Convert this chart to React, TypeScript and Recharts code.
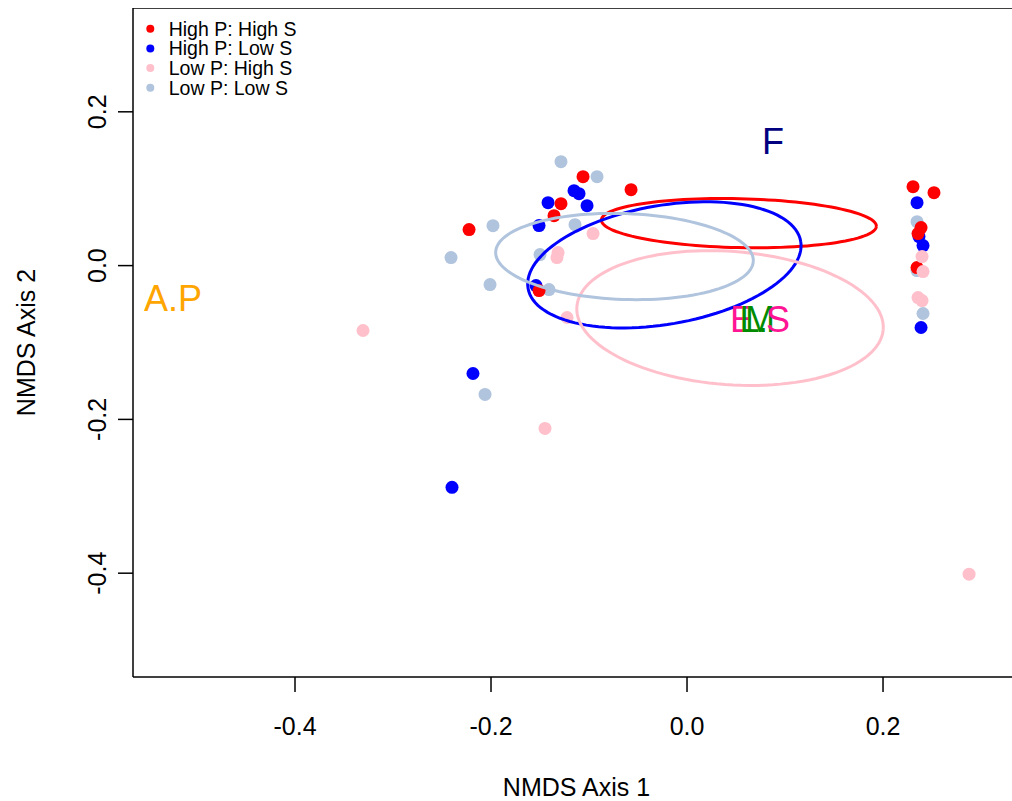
import { ScatterChart, Scatter, XAxis, YAxis, ReferenceLine, Legend } from "recharts"

const GROUPS = ["High P: High S", "High P: Low S", "Low P: High S", "Low P: Low S"]
const COLORS = ["#FF0000", "#0000FF", "#FFC0CB", "#B0C4DE"]

// site scores, NMDS1 / NMDS2
const highPHighS = [
  [-0.1061, 0.1156], [-0.0571, 0.0987], [-0.1286, 0.0805], [-0.1357, 0.0649],
  [-0.2224, 0.0468], [-0.151, -0.0325], [0.2306, 0.1026], [0.252, 0.0948],
  [0.2388, 0.0494], [0.2357, 0.0416], [0.2347, -0.0026],
]
const highPLowS = [
  [-0.1153, 0.0974], [-0.1102, 0.0935], [-0.1418, 0.0818], [-0.102, 0.0779],
  [-0.151, 0.052], [-0.1541, -0.026], [-0.2184, -0.1403], [-0.2398, -0.2883],
  [0.2347, 0.0818], [0.2367, 0.0377], [0.2408, 0.026], [0.2388, -0.0805],
]
const lowPHighS = [
  [-0.0959, 0.0416], [-0.1316, 0.0169], [-0.1327, 0.0104], [-0.1224, -0.0675],
  [-0.1449, -0.2117], [-0.3306, -0.0844], [0.2878, -0.4013], [0.2398, 0.0117],
  [0.2408, -0.0078], [0.2357, -0.0416], [0.2398, -0.0455],
]
const lowPLowS = [
  [-0.1286, 0.1351], [-0.0918, 0.1156], [-0.1143, 0.0532], [-0.198, 0.0519],
  [-0.2408, 0.0104], [-0.15, 0.0143], [-0.201, -0.0247], [-0.1408, -0.0312],
  [-0.2061, -0.1675], [0.2347, 0.0571], [0.2347, -0.0065], [0.2408, -0.0623],
]

// group ellipses: centre x, centre y, semi-axis A (x, y), semi-axis B (x, y)
const ellipseParams = [
  [0.0529, 0.0552, 0.1403, -0.00405, 0.000567, 0.0318],
  [-0.0231, 0.001, 0.1391, 0.03057, -0.01033, 0.07614],
  [0.0439, -0.0682, 0.1563, -0.01475, 0.00503, 0.08639],
  [-0.0638, 0.0118, 0.13145, -0.00584, 0.00153, 0.05581],
]

// fitted variable labels (the last one is several labels printed on top of each other)
const labelText = ["A.P", "F", "ELM.S"]
const labelX = [-0.5245, 0.0878, 0.0745]
const labelY = [-0.0422, 0.1617, -0.0701]
const labelColors = [["#FFA500"], ["#000080"], ["#FF1493", "#008B00", "#008B00", "#008B00", "#FF1493"]]

const TICKS = [-0.4, -0.2, 0, 0.2]
const XMIN = -0.5653
const XMAX = 0.3316
const YMIN = -0.535
const YMAX = 0.335

const FONT = "'Liberation Sans', Arial, sans-serif"

const toPts = (arr: number[][]) => arr.map(([x, y]) => ({ x, y }))

const ellipsePts = (p: number[]) => {
  const [cx, cy, ax, ay, bx, by] = p
  const out = []
  for (let i = 0; i <= 120; i++) {
    const t = (2 * Math.PI * i) / 120
    out.push({ x: cx + ax * Math.cos(t) + bx * Math.sin(t), y: cy + ay * Math.cos(t) + by * Math.sin(t) })
  }
  return out
}

const dot = (color: string) => (p: any) => <circle cx={p.cx} cy={p.cy} r={6.5} fill={color} />

const labels = labelText.map((text, i) => ({ x: labelX[i], y: labelY[i], text, colors: labelColors[i] }))

// letter offsets used to overprint the stacked labels
const STACK_DX = [0, -14.5, -14.5, -17, -2]

const LabelShape = (p: any) => {
  const { text, colors } = p.payload
  if (colors.length === 1) {
    return (
      <text x={p.cx} y={p.cy} dy="0.35em" textAnchor="middle" fontSize={36} fontFamily={FONT} fill={colors[0]}>
        {text}
      </text>
    )
  }
  return (
    <text x={p.cx - 30} y={p.cy} dy="0.35em" fontSize={36} fontFamily={FONT}>
      {text.split("").map((ch: string, i: number) => (
        <tspan key={i} dx={STACK_DX[i]} fill={colors[i]}>
          {ch}
        </tspan>
      ))}
    </text>
  )
}

const XTick = ({ x, y, payload }: any) => (
  <text x={x} y={y + 43} textAnchor="middle" fontSize={25} fontFamily={FONT} fill="#000">
    {Number(payload.value).toFixed(1)}
  </text>
)

const YTick = ({ x, y, payload }: any) => (
  <text transform={`translate(${x - 12},${y}) rotate(-90)`} textAnchor="middle" fontSize={25} fontFamily={FONT} fill="#000">
    {Number(payload.value).toFixed(1)}
  </text>
)

const LegendBox = () => (
  <svg width={320} height={100} style={{ position: "absolute", left: 0, top: 0, overflow: "visible" }}>
    {GROUPS.map((g, i) => (
      <g key={g}>
        <circle cx={142.3} cy={20.7 + i * 19.7} r={4} fill={COLORS[i]} />
        <text x={160.7} y={20.7 + i * 19.7} dy="0.35em" fontSize={19.5} fontFamily={FONT} fill="#000">
          {g}
        </text>
      </g>
    ))}
  </svg>
)

const axisStroke = { stroke: "#000", strokeWidth: 1.5 }

export default function App() {
  const groups = [highPHighS, highPLowS, lowPHighS, lowPLowS]
  const drawOrder = [3, 1, 0, 2]
  return (
    <div style={{ padding: "8px 0 0 8px" }}>
      <style>{"body{margin:0;overflow:hidden}"}</style>
      <ScatterChart width={1004} height={793} margin={{ top: 0, right: 0, bottom: 0, left: 0 }}>
        <XAxis
          type="number"
          dataKey="x"
          domain={[XMIN, XMAX]}
          ticks={TICKS}
          allowDataOverflow
          axisLine={axisStroke}
          tickSize={15}
          tickMargin={0}
          tickLine={axisStroke}
          tick={<XTick />}
          height={124}
          label={{
            content: () => (
              <text x={568.5} y={788} textAnchor="middle" fontSize={25} fontFamily={FONT} fill="#000">
                NMDS Axis 1
              </text>
            ),
          }}
        />
        <YAxis
          type="number"
          dataKey="y"
          domain={[YMIN, YMAX]}
          ticks={TICKS}
          allowDataOverflow
          axisLine={axisStroke}
          tickSize={15}
          tickMargin={0}
          tickLine={axisStroke}
          tick={<YTick />}
          width={125}
          label={{
            content: () => (
              <text transform="translate(27,334.5) rotate(-90)" textAnchor="middle" fontSize={25} fontFamily={FONT} fill="#000">
                NMDS Axis 2
              </text>
            ),
          }}
        />
        <ReferenceLine y={YMAX} stroke="#000" strokeWidth={1.5} ifOverflow="visible" />
        {drawOrder.map((gi) => (
          <Scatter
            key={`pts-${gi}`}
            data={toPts(groups[gi])}
            fill={COLORS[gi]}
            shape={dot(COLORS[gi])}
            isAnimationActive={false}
          />
        ))}
        {ellipseParams.map((p, i) => (
          <Scatter
            key={`ell-${i}`}
            data={ellipsePts(p)}
            fill={COLORS[i]}
            line={{ stroke: COLORS[i], strokeWidth: 3 }}
            lineType="joint"
            shape={() => <g />}
            isAnimationActive={false}
          />
        ))}
        <Scatter data={labels} isAnimationActive={false} shape={LabelShape} />
        <Legend
          content={() => <LegendBox />}
          wrapperStyle={{ position: "absolute", left: 0, top: 0, width: 0, height: 0, overflow: "visible" }}
        />
      </ScatterChart>
    </div>
  )
}
